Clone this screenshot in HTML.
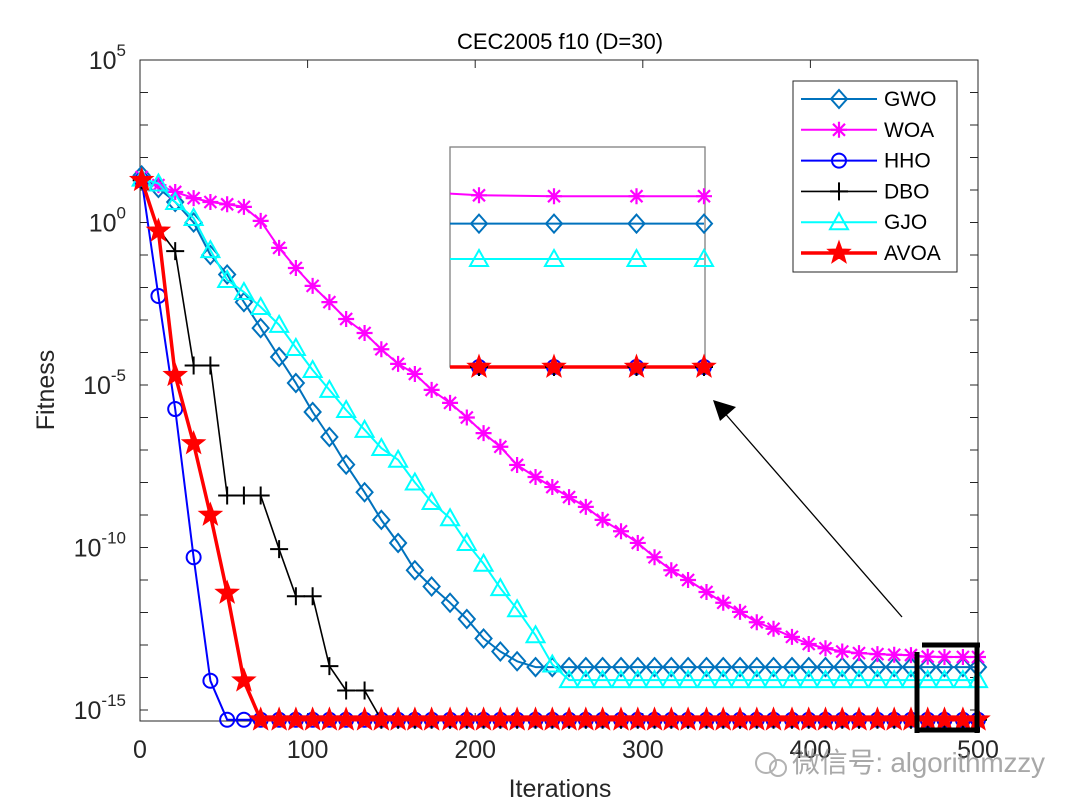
<!DOCTYPE html>
<html><head><meta charset="utf-8">
<style>
html,body{margin:0;padding:0;background:#fff;}
svg{display:block;font-family:"Liberation Sans",Arial,sans-serif;}
</style></head>
<body>
<svg id="chart" width="1080" height="810" viewBox="0 0 1080 810" xmlns="http://www.w3.org/2000/svg">
<defs><clipPath id="insetClip"><rect x="450" y="140" width="255" height="235"/></clipPath></defs>
<rect x="0" y="0" width="1080" height="810" fill="#fff"/>
<g id="axes"></g>
<g id="series"></g>
<g id="inset"></g>
<g id="legend"></g>
</svg>
<script>
const iterations=[1,11,21,32,42,52,62,72,83,93,103,113,123,134,144,154,164,174,185,195,205,215,225,236,246,256,266,276,287,297,307,317,327,338,348,358,368,378,389,399,409,419,429,440,450,460,470,480,491,500];
const seriesNames=["GWO","WOA","HHO","DBO","GJO","AVOA"];
const gwoLog=[1.45,1.06,0.63,0,-1.0,-1.6,-2.45,-3.25,-4.14,-4.94,-5.83,-6.6,-7.45,-8.3,-9.15,-9.86,-10.7,-11.2,-11.7,-12.2,-12.8,-13.2,-13.5,-13.68,-13.68,-13.68,-13.68,-13.68,-13.68,-13.68,-13.68,-13.68,-13.68,-13.68,-13.68,-13.68,-13.68,-13.68,-13.68,-13.68,-13.68,-13.68,-13.68,-13.68,-13.68,-13.68,-13.68,-13.68,-13.68,-13.68];
const woaLog=[1.4,1.15,0.94,0.75,0.63,0.56,0.48,0.05,-0.78,-1.4,-1.95,-2.45,-2.97,-3.4,-3.9,-4.35,-4.66,-5.15,-5.55,-6.0,-6.48,-6.9,-7.46,-7.83,-8.14,-8.45,-8.75,-9.15,-9.5,-9.86,-10.3,-10.7,-11.0,-11.37,-11.7,-11.98,-12.3,-12.5,-12.75,-12.97,-13.1,-13.2,-13.25,-13.28,-13.3,-13.31,-13.36,-13.37,-13.37,-13.37];
const hhoLog=[1.3,-2.26,-5.74,-10.3,-14.1,-15.3,-15.3,-15.3,-15.3,-15.3,-15.3,-15.3,-15.3,-15.3,-15.3,-15.3,-15.3,-15.3,-15.3,-15.3,-15.3,-15.3,-15.3,-15.3,-15.3,-15.3,-15.3,-15.3,-15.3,-15.3,-15.3,-15.3,-15.3,-15.3,-15.3,-15.3,-15.3,-15.3,-15.3,-15.3,-15.3,-15.3,-15.3,-15.3,-15.3,-15.3,-15.3,-15.3,-15.3,-15.3];
const dboLog=[1.3,-0.2,-0.88,-4.4,-4.4,-8.4,-8.4,-8.4,-10.05,-11.5,-11.5,-13.65,-14.4,-14.4,-15.3,-15.3,-15.3,-15.3,-15.3,-15.3,-15.3,-15.3,-15.3,-15.3,-15.3,-15.3,-15.3,-15.3,-15.3,-15.3,-15.3,-15.3,-15.3,-15.3,-15.3,-15.3,-15.3,-15.3,-15.3,-15.3,-15.3,-15.3,-15.3,-15.3,-15.3,-15.3,-15.3,-15.3,-15.3,-15.3];
const gjoLog=[1.35,1.2,0.63,0.14,-0.85,-1.77,-2.14,-2.6,-3.15,-3.86,-4.54,-5.15,-5.77,-6.38,-6.94,-7.3,-8.0,-8.6,-9.1,-9.86,-10.5,-11.25,-11.9,-12.7,-13.6,-14.08,-14.08,-14.08,-14.08,-14.08,-14.08,-14.08,-14.08,-14.08,-14.08,-14.08,-14.08,-14.08,-14.08,-14.08,-14.08,-14.08,-14.08,-14.08,-14.08,-14.08,-14.08,-14.08,-14.08,-14.08];
const avoaLog=[1.3,-0.26,-4.7,-6.8,-9.0,-11.4,-14.1,-15.3,-15.3,-15.3,-15.3,-15.3,-15.3,-15.3,-15.3,-15.3,-15.3,-15.3,-15.3,-15.3,-15.3,-15.3,-15.3,-15.3,-15.3,-15.3,-15.3,-15.3,-15.3,-15.3,-15.3,-15.3,-15.3,-15.3,-15.3,-15.3,-15.3,-15.3,-15.3,-15.3,-15.3,-15.3,-15.3,-15.3,-15.3,-15.3,-15.3,-15.3,-15.3,-15.3];
const xTicks=[0,100,200,300,400,500];
const yTickExps=[5,0,-5,-10,-15];

const NS="http://www.w3.org/2000/svg";
const L=140,R=978,T=60,B=721;
const xScale=it=>L+it*(R-L)/500;
const yScale=lg=>T+(5-lg)*32.5;
const xIn=it=>479+(it-470)*7.5;
const yIn=lg=>367-(lg+15.3)*88.5;
function el(tag,attrs,parent){const e=document.createElementNS(NS,tag);for(const k in attrs)e.setAttribute(k,attrs[k]);parent.appendChild(e);return e;}

const axes=document.getElementById('axes');
const frame=el('rect',{x:L,y:T,width:R-L,height:B-T,fill:'none',stroke:'#262626','stroke-width':1},axes);


for(let d=5;d>=-15;d--){const y=yScale(d);
 const t1=el('line',{x1:L,y1:y,x2:L+8,y2:y,stroke:'#262626','stroke-width':1},axes);
 
 
 const t2=el('line',{x1:R,y1:y,x2:R-8,y2:y,stroke:'#262626','stroke-width':1},axes);
 
 }
yTickExps.forEach(e=>{const y=yScale(e);
 const t=el('text',{x:L-14,y:y+9,'text-anchor':'end','font-size':25,fill:'#262626'},axes);
 
 
 t.innerHTML='10<tspan dy="-13" font-size="17">'+e+'</tspan>';});
xTicks.forEach(v=>{const x=xScale(v);
 const a=el('line',{x1:x,y1:B,x2:x,y2:B-8,stroke:'#262626'},axes);
 
 
 const b=el('line',{x1:x,y1:T,x2:x,y2:T+8,stroke:'#262626'},axes);
 
 
 const t=el('text',{x:x,y:758,'text-anchor':'middle','font-size':25,fill:'#262626'},axes);
 
 
 t.textContent=v;});
const title=el('text',{x:560,y:49,'text-anchor':'middle','font-size':22,fill:'#000'},axes);


title.textContent='CEC2005 f10 (D=30)';
const xl=el('text',{x:560,y:797,'text-anchor':'middle','font-size':25,fill:'#262626'},axes);


xl.textContent='Iterations';
const yl=el('text',{x:54,y:390,'text-anchor':'middle','font-size':25,fill:'#262626',transform:'rotate(-90 54 390)'},axes);


yl.textContent='Fitness';

const styles={
 GWO:{c:'#0072BD',w:2,m:'diamond'},WOA:{c:'#FF00FF',w:2,m:'asterisk'},HHO:{c:'#0000FF',w:2,m:'circle'},
 DBO:{c:'#000000',w:1.6,m:'plus'},GJO:{c:'#00FFFF',w:2,m:'triangle'},AVOA:{c:'#FF0000',w:3.5,m:'star'}};
const dataMap={GWO:gwoLog,WOA:woaLog,HHO:hhoLog,DBO:dboLog,GJO:gjoLog,AVOA:avoaLog};

function marker(type,x,y,c,g){let e;
 if(type==='diamond')e=el('polygon',{points:`${x},${y-9} ${x+8},${y} ${x},${y+9} ${x-8},${y}`,fill:'none',stroke:c,'stroke-width':2},g);
 else if(type==='circle')e=el('circle',{cx:x,cy:y,r:7,fill:'none',stroke:c,'stroke-width':2},g);
 else if(type==='triangle')e=el('polygon',{points:`${x},${y-9} ${x+9},${y+7} ${x-9},${y+7}`,fill:'none',stroke:c,'stroke-width':2},g);
 else if(type==='plus')e=el('path',{d:`M${x-9},${y}H${x+9}M${x},${y-9}V${y+9}`,stroke:c,'stroke-width':2},g);
 else if(type==='asterisk')e=el('path',{d:`M${x-8},${y}H${x+8}M${x},${y-8}V${y+8}M${x-6},${y-6}L${x+6},${y+6}M${x-6},${y+6}L${x+6},${y-6}`,stroke:c,'stroke-width':2.2},g);
 else {let p=[];for(let i=0;i<10;i++){const r=i%2?5:12;const a=-Math.PI/2+i*Math.PI/5;p.push((x+r*Math.cos(a)).toFixed(1)+','+(y+r*Math.sin(a)).toFixed(1));}
  e=el('polygon',{points:p.join(' '),fill:c,stroke:c,'stroke-width':1},g);}
 return e;}

const sg=document.getElementById('series');
const ig=document.getElementById('inset');
const ibox=el('rect',{x:450,y:147,width:255,height:220,fill:'#fff',stroke:'#808080','stroke-width':1.3},ig);


const ilines=el('g',{'clip-path':'url(#insetClip)'},ig);



seriesNames.forEach(n=>{const s=styles[n],d=dataMap[n];
 const g=el('g',{},sg);
 
 
 const pts=iterations.map((it,i)=>xScale(it).toFixed(1)+','+yScale(d[i]).toFixed(1)).join(' ');
 const pl=el('polyline',{points:pts,fill:'none',stroke:s.c,'stroke-width':s.w,'stroke-linejoin':'round'},g);
 
 
 iterations.forEach((it,i)=>{const m=marker(s.m,xScale(it),yScale(d[i]),s.c,g);
  
  });
 const ip=iterations.map((it,i)=>xIn(it).toFixed(1)+','+yIn(d[i]).toFixed(1)).join(' ');
 const il=el('polyline',{points:ip,fill:'none',stroke:s.c,'stroke-width':s.w},ilines);
 
 
});
seriesNames.forEach(n=>{const s=styles[n],d=dataMap[n];
 iterations.forEach((it,i)=>{if(it>=466){const m=marker(s.m,xIn(it),yIn(d[i]),s.c,ig);
  
  }});});

const zb=el('path',{d:'M922,645H980M977,643V733M915,730H980M917,652V733',stroke:'#000','stroke-width':5,fill:'none'},axes.parentNode);


const ar=el('line',{x1:902,y1:617,x2:722,y2:410,stroke:'#000','stroke-width':1.3},axes.parentNode);


const ah=el('polygon',{points:'713,400 736,407 720,421',fill:'#000'},axes.parentNode);



const lg=document.getElementById('legend');
const lb=el('rect',{x:793,y:81,width:164,height:191,fill:'#fff',stroke:'#262626','stroke-width':1},lg);


seriesNames.forEach((n,i)=>{const s=styles[n],y=99+i*30.8;
 const g=el('g',{},lg);
 
 
 el('line',{x1:801,y1:y,x2:877,y2:y,stroke:s.c,'stroke-width':s.w},g);
 marker(s.m,839,y,s.c,g);
 const t=el('text',{x:884,y:y+7,'font-size':21,fill:'#000'},g);
 t.textContent=n;});

const wm=el('g',{opacity:0.75},axes.parentNode);


el('circle',{cx:766,cy:763,r:10,fill:'none',stroke:'#999','stroke-width':2},wm);
el('circle',{cx:778,cy:768,r:8,fill:'none',stroke:'#999','stroke-width':2},wm);
const wt=el('text',{x:792,y:772,'font-size':28,fill:'#8c8c8c','font-family':'"Liberation Sans","Noto Sans CJK SC",sans-serif',textLength:253},wm);
wt.textContent='微信号: algorithmzzy';
</script>
</body></html>
